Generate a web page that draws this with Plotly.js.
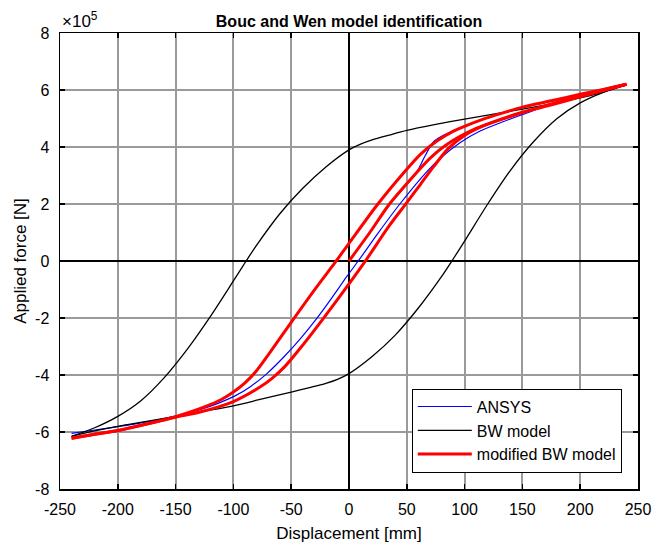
<!DOCTYPE html>
<html>
<head>
<meta charset="utf-8">
<script src="https://cdn.plot.ly/plotly-3.0.1.min.js"></script>
<style>html,body{margin:0;padding:0;background:#fff;}#chart{width:668px;height:544px;}</style>
</head>
<body>
<div id="chart"></div>
<script>
// Values in units of 1e5 N (axis shows "x10^5")
// ANSYS: initial loading branch, then unloading branch
const ansysIniX = [0, 18, 35, 58, 66, 74, 100, 130, 150, 200, 240];
const ansysIniY = [0, 1.0, 1.97, 3.08, 3.7, 4.22, 4.74, 5.15, 5.38, 5.82, 6.18];
const ansysUnX = [240, 220, 200, 175, 151, 131, 113, 96, 80, 67, 44, 25, 8, -2, -15, -28, -42, -56, -71, -85, -99, -129, -150, -180, -200, -220, -240];
const ansysUnY = [6.18, 6.0, 5.8, 5.5, 5.15, 4.85, 4.55, 4.15, 3.64, 3.12, 2.0, 0.97, 0, -0.55, -1.3, -2.02, -2.72, -3.35, -3.95, -4.4, -4.74, -5.22, -5.44, -5.68, -5.81, -5.93, -6.05];

// Classical Bouc-Wen model: loading branch and unloading branch
const bwLoadX = [-240, -220, -200, -180, -160, -140, -120, -100, -89, -80, -60, -40, -20, 0, 10, 20, 35, 50, 75, 100, 125, 150, 175, 200, 220, 240];
const bwLoadY = [-6.15, -5.85, -5.45, -4.9, -4.1, -3.1, -1.95, -0.7, 0, 0.55, 1.65, 2.55, 3.3, 3.9, 4.1, 4.25, 4.42, 4.58, 4.79, 4.98, 5.15, 5.33, 5.51, 5.72, 5.93, 6.18];
const bwUnX = [240, 220, 200, 180, 160, 140, 120, 100, 89, 80, 60, 40, 20, 0, -10, -20, -35, -50, -75, -100, -125, -150, -175, -200, -220, -240];
const bwUnY = [6.18, 5.92, 5.55, 5.0, 4.2, 3.2, 2.0, 0.7, 0, -0.55, -1.65, -2.6, -3.35, -3.95, -4.15, -4.29, -4.45, -4.6, -4.84, -5.08, -5.27, -5.45, -5.63, -5.8, -5.96, -6.15];

// Modified Bouc-Wen model: initial loading, unloading, reloading
const modIniX = [0, 18, 35, 58, 70, 84, 110, 142, 170, 200, 240];
const modIniY = [0, 1.0, 2.0, 3.08, 3.6, 4.07, 4.65, 5.1, 5.45, 5.8, 6.2];
const modUnX = [240, 220, 200, 177, 150, 131, 115, 99, 86, 73, 62, 50, 35, 15, 0, -21, -40, -55, -66, -78, -100, -129, -150, -175, -200, -220, -240];
const modUnY = [6.2, 5.98, 5.76, 5.5, 5.22, 4.97, 4.72, 4.38, 3.95, 3.3, 2.7, 2.05, 1.25, 0.05, -0.8, -1.95, -2.95, -3.68, -4.1, -4.45, -4.93, -5.3, -5.48, -5.72, -5.95, -6.08, -6.22];
const modLoadX = [-240, -220, -200, -175, -150, -125, -110, -100, -90, -80, -70, -50, -30, -12, 0, 25, 50, 62, 76, 90, 102, 115, 131, 150, 175, 200, 220, 240];
const modLoadY = [-6.22, -6.08, -5.95, -5.72, -5.46, -5.12, -4.85, -4.6, -4.28, -3.85, -3.3, -2.15, -1.02, -0.05, 0.62, 2.0, 3.22, 3.75, 4.21, 4.55, 4.76, 4.96, 5.17, 5.4, 5.62, 5.85, 6.02, 6.2];

const seriesNames = ['ANSYS', 'BW model', 'modified BW model'];
const seriesColors = ['#0000ff', '#000000', '#ff0000'];
const xTickVals = [-250, -200, -150, -100, -50, 0, 50, 100, 150, 200, 250];
const xTickText = ['-250', '-200', '-150', '-100', '-50', '0', '50', '100', '150', '200', '250'];
const yTickVals = [-8, -6, -4, -2, 0, 2, 4, 6, 8];
const yTickText = ['-8', '-6', '-4', '-2', '0', '2', '4', '6', '8'];

const FONT = 'Liberation Sans, Arial, Helvetica, sans-serif';

function branch(x, y, idx, width, show) {
  return {x: x, y: y, name: seriesNames[idx], legendgroup: 'g' + idx, showlegend: show,
          mode: 'lines', line: {color: seriesColors[idx], width: width, shape: 'spline', smoothing: 0.8}};
}

const traces = [
  branch(ansysIniX, ansysIniY, 0, 1.2, true),
  branch(ansysUnX, ansysUnY, 0, 1.2, false),
  branch(bwLoadX, bwLoadY, 1, 1.3, true),
  branch(bwUnX, bwUnY, 1, 1.3, false),
  branch(modIniX, modIniY, 2, 3, true),
  branch(modUnX, modUnY, 2, 3, false),
  branch(modLoadX, modLoadY, 2, 3, false)
];

const axisCommon = {
  showgrid: true, gridcolor: '#9a9a9a', gridwidth: 2,
  zeroline: true, zerolinecolor: '#000000', zerolinewidth: 2,
  showline: true, linecolor: '#000000', linewidth: 1.5, mirror: 'ticks',
  ticks: 'inside', ticklen: 5, tickwidth: 1.5, tickcolor: '#000000',
  tickfont: {family: FONT, size: 16, color: '#000'}
};

const layout = {
  width: 668, height: 544,
  paper_bgcolor: '#ffffff', plot_bgcolor: '#ffffff',
  margin: {l: 60, r: 30, t: 33, b: 55},
  font: {family: FONT, color: '#000'},
  title: {text: '<b>Bouc and Wen model identification</b>', font: {family: FONT, size: 16, color: '#000'},
          x: 0.5, xref: 'paper', xanchor: 'center', y: 1, yref: 'paper', yanchor: 'bottom', pad: {b: 6}},
  xaxis: Object.assign({}, axisCommon, {
    range: [-250, 250], tickmode: 'array', tickvals: xTickVals, ticktext: xTickText,
    ticklabelstandoff: 5,
    title: {text: 'Displacement [mm]', font: {family: FONT, size: 17, color: '#000'}, standoff: 10}
  }),
  yaxis: Object.assign({}, axisCommon, {
    range: [-8, 8], tickmode: 'array', tickvals: yTickVals, ticktext: yTickText,
    ticklabelstandoff: 6,
    title: {text: 'Applied force [N]', font: {family: FONT, size: 17, color: '#000'}, standoff: 4}
  }),
  showlegend: true,
  legend: {x: 0.972, y: 0.036, xanchor: 'right', yanchor: 'bottom', itemwidth: 54,
           bgcolor: '#ffffff', bordercolor: '#000000', borderwidth: 1,
           font: {family: FONT, size: 16, color: '#000'}, tracegroupgap: 0},
  annotations: [{text: '\u00d710<sup>5</sup>', xref: 'paper', yref: 'paper', x: 0, y: 1,
                 xanchor: 'left', yanchor: 'bottom', showarrow: false, yshift: 0,
                 font: {family: FONT, size: 17, color: '#000'}}]
};

Plotly.newPlot('chart', traces, layout, {displayModeBar: false, staticPlot: true});
</script>
</body>
</html>
